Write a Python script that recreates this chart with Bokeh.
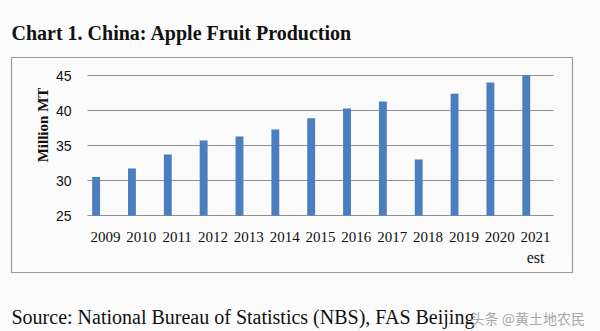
import math
from bokeh.plotting import figure
from bokeh.models import Range1d
from bokeh.core.properties import value
from bokeh.embed import file_html
from bokeh.resources import INLINE

years = ["2009", "2010", "2011", "2012", "2013", "2014", "2015",
         "2016", "2017", "2018", "2019", "2020", "2021"]
production = [30.5, 31.7, 33.7, 35.7, 36.3, 37.3, 38.9,
              40.3, 41.3, 33.0, 42.4, 44.0, 45.0]
y_ticks = [25, 30, 35, 40, 45]
estimate_note = "est"

title_text = "Chart 1. China: Apple Fruit Production"
source_text = "Source: National Bureau of Statistics (NBS), FAS Beijing"
y_label_text = "Million MT"
watermark_text = "头条 @黄土地农民"

BG = "#fbfbfb"
GRID = "#8f8f8f"
BAR = "#4a7ebf"
INK = "#111111"
BOX = "#9a9a9a"

# ---- page layout (pixels) ----
W, H = 600, 331
PL, PR, PT, PB = 87, 553, 75, 215          # plotting area
y_lo, y_hi = y_ticks[0], y_ticks[-1]
n = len(years)
slot = (PR - PL) / n                        # px per category
per = (PB - PT) / (y_hi - y_lo)             # px per million MT


def px_x(px):
    return (px - PL) / slot


def px_y(py):
    return y_lo + (PB - py) / per


p = figure(width=W, height=H, output_backend="svg", toolbar_location=None,
           x_range=Range1d(px_x(0), px_x(W)), y_range=Range1d(px_y(H), px_y(0)),
           x_axis_location=None, y_axis_location=None, min_border=0)
p.background_fill_color = BG
p.border_fill_color = BG
p.outline_line_color = None
p.grid.visible = False

centers = [i + 0.5 for i in range(n)]
bar_x = [c - 0.26 for c in centers]

# outer box
p.quad(left=[px_x(11)], right=[px_x(572)], top=[px_y(57)], bottom=[px_y(272)],
       fill_color=None, line_color=BOX, line_width=1.2)

# horizontal gridlines (the lowest one is the category axis line)
p.segment(x0=[0] * len(y_ticks), x1=[n] * len(y_ticks), y0=y_ticks, y1=y_ticks,
          line_color=GRID, line_width=1)

# bars
p.vbar(x=bar_x, top=production, bottom=y_lo, width=0.22, fill_color=BAR, line_color=None)

# value-axis tick labels
p.text(x=[px_x(71)] * len(y_ticks), y=y_ticks, text=[str(t) for t in y_ticks],
       text_font=value("Liberation Sans"), text_font_size="14px", text_color=INK,
       text_align="right", text_baseline="middle")

# category labels
p.text(x=centers, y=[px_y(236)] * n, text=years,
       text_font=value("Liberation Serif"), text_font_size="15px", text_color=INK,
       text_align="center", text_baseline="middle")
p.text(x=[centers[-1]], y=[px_y(257)], text=[estimate_note],
       text_font=value("Liberation Serif"), text_font_size="16px", text_color=INK,
       text_align="center", text_baseline="middle")

# axis title
p.text(x=[px_x(42)], y=[px_y(124.5)], text=[y_label_text], angle=math.pi / 2,
       text_font=value("Liberation Serif"), text_font_style="bold", text_font_size="15px",
       text_color=INK, text_align="center", text_baseline="middle")

# heading and source
p.text(x=[px_x(11)], y=[px_y(32)], text=[title_text],
       text_font=value("Liberation Serif"), text_font_style="bold", text_font_size="20px",
       text_color=INK, text_align="left", text_baseline="middle")
p.text(x=[px_x(11)], y=[px_y(316)], text=[source_text],
       text_font=value("Liberation Serif"), text_font_size="20px",
       text_color=INK, text_align="left", text_baseline="middle")
p.text(x=[px_x(470)], y=[px_y(317)], text=[watermark_text],
       text_font=value("Noto Sans CJK SC"), text_font_size="14px",
       text_color="#a8a8a8", text_align="left", text_baseline="middle")

open("out.html", "w").write(file_html(p, INLINE))
